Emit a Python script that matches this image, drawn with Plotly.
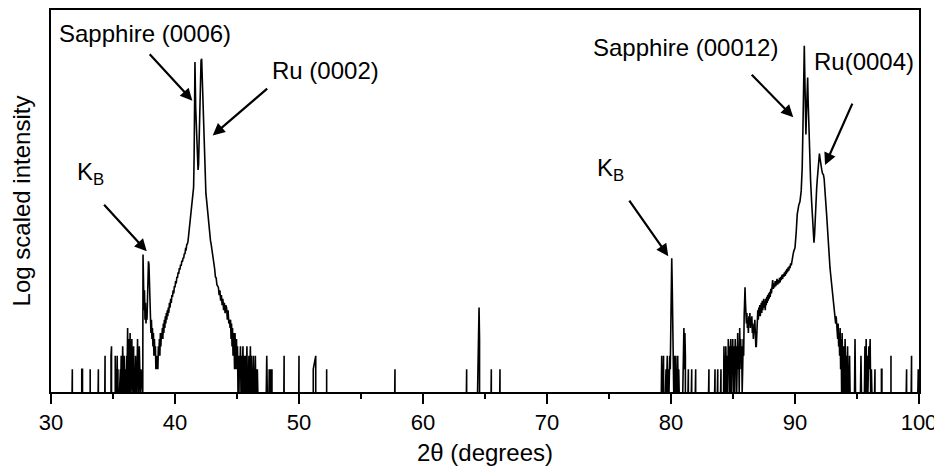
import math
import plotly.graph_objects as go

# 2theta (deg), counts; zero counts leave gaps on the log axis
noise_35 = [
    (31.70, 1), (31.72, 2), (31.74, 1), (31.76, 0),
    (32.48, 2), (32.54, 2), (32.56, 0),
    (33.14, 1), (33.16, 2), (33.18, 1), (33.20, 0),
    (33.80, 1), (33.82, 2), (33.84, 1), (33.86, 0),
    (34.34, 1), (34.36, 3), (34.38, 1), (34.40, 0),
    (34.84, 3), (34.88, 4), (34.90, 0),
    (35.12, 1), (35.14, 2), (35.16, 1), (35.18, 3), (35.20, 1), (35.22, 2), (35.24, 1), (35.28, 2),
    (35.30, 1), (35.34, 3), (35.36, 1), (35.40, 2), (35.42, 1), (35.44, 0),
    (35.52, 1), (35.54, 2), (35.56, 1), (35.60, 2), (35.62, 1), (35.66, 3), (35.68, 1), (35.72, 2),
    (35.74, 1), (35.78, 4), (35.80, 1), (35.84, 2), (35.86, 1), (35.90, 3), (35.92, 1), (36.00, 2),
    (36.02, 1), (36.10, 3), (36.12, 1), (36.18, 7), (36.20, 1), (36.24, 4), (36.26, 2), (36.30, 5),
    (36.32, 1), (36.36, 3), (36.38, 6), (36.40, 1), (36.46, 4), (36.48, 2), (36.52, 5), (36.54, 1),
    (36.60, 3), (36.62, 2), (36.66, 4), (36.68, 1), (36.74, 2), (36.76, 1), (36.82, 3), (36.84, 1),
    (36.90, 2), (36.92, 1), (36.98, 5), (37.00, 2), (37.04, 3), (37.06, 1), (37.12, 4), (37.14, 2),
    (37.18, 3), (37.20, 1), (37.26, 2), (37.30, 1), (37.36, 1),
]

peak_0006 = [
    (37.40, 1), (37.42, 65), (37.46, 30), (37.50, 12), (37.54, 22), (37.58, 9), (37.62, 15), (37.66, 8),
    (37.70, 11), (37.74, 9), (37.78, 20), (37.82, 40), (37.86, 53), (37.90, 48), (37.94, 30), (37.98, 14),
    (38.02, 10), (38.06, 6), (38.10, 9), (38.14, 5), (38.18, 7), (38.22, 4), (38.26, 6), (38.30, 3),
    (38.34, 5), (38.38, 3), (38.42, 4), (38.46, 2), (38.50, 3), (38.54, 2), (38.58, 3), (38.62, 2),
    (38.66, 4), (38.70, 3), (38.74, 5), (38.78, 3), (38.82, 6), (38.86, 4), (38.90, 6), (38.94, 5),
    (38.98, 7), (39.02, 5), (39.06, 8), (39.10, 6), (39.14, 9), (39.18, 7), (39.22, 10), (39.26, 8),
    (39.30, 11), (39.34, 9), (39.38, 12), (39.42, 10), (39.46, 13), (39.50, 11), (39.55, 15), (39.60, 13),
    (39.65, 17), (39.70, 15), (39.75, 19), (39.80, 18), (39.85, 22), (39.90, 20), (39.95, 25), (40.00, 24),
    (40.05, 29), (40.10, 27), (40.15, 33), (40.20, 32), (40.25, 38), (40.30, 36), (40.35, 43), (40.40, 41),
    (40.45, 48), (40.50, 46), (40.55, 54), (40.60, 52), (40.65, 59), (40.70, 58), (40.75, 67), (40.80, 66),
    (40.85, 77), (40.90, 76), (40.95, 88), (41.00, 90), (41.05, 98), (41.10, 115), (41.15, 135), (41.20, 160),
    (41.25, 190), (41.30, 230), (41.35, 280), (41.40, 325), (41.45, 380), (41.50, 500), (41.54, 1200),
    (41.58, 6000), (41.61, 22600), (41.64, 11000), (41.67, 5500), (41.70, 4200), (41.74, 2400), (41.78, 1300),
    (41.82, 950), (41.86, 850), (41.90, 1000), (41.94, 2200), (41.98, 5500), (42.02, 12000), (42.06, 19000),
    (42.10, 23500), (42.15, 25000), (42.19, 15000), (42.23, 9500), (42.27, 5500), (42.31, 2800), (42.36, 1300),
    (42.42, 600), (42.49, 420), (42.56, 325), (42.62, 250), (42.68, 190), (42.74, 150), (42.80, 120),
    (42.86, 100), (42.92, 88), (42.96, 80), (43.02, 64), (43.08, 58), (43.14, 46), (43.20, 42), (43.26, 33),
    (43.32, 32), (43.38, 26), (43.44, 25), (43.50, 24), (43.56, 19), (43.62, 22), (43.68, 16), (43.74, 19),
    (43.80, 14), (43.86, 17), (43.92, 12), (43.98, 15), (44.04, 11), (44.10, 14), (44.16, 13), (44.22, 9),
    (44.28, 12), (44.34, 8), (44.40, 9), (44.44, 7), (44.48, 9), (44.52, 5), (44.56, 8), (44.60, 4),
    (44.64, 7), (44.68, 3), (44.72, 6), (44.76, 5), (44.80, 2), (44.84, 6), (44.88, 3), (44.92, 2),
    (44.96, 5), (45.00, 2), (45.04, 4), (45.08, 1), (45.12, 3), (45.16, 1), (45.20, 3), (45.24, 2),
    (45.28, 4), (45.32, 1), (45.36, 3), (45.40, 1), (45.44, 2), (45.48, 4), (45.52, 1), (45.56, 3),
    (45.60, 2), (45.64, 1), (45.68, 3), (45.72, 1), (45.76, 2), (45.80, 4), (45.84, 1), (45.88, 2),
    (45.92, 1), (45.96, 3), (46.00, 1), (46.04, 2), (46.08, 4), (46.12, 1), (46.16, 3), (46.20, 1),
    (46.24, 2), (46.28, 1), (46.32, 3), (46.36, 1), (46.40, 2), (46.44, 1), (46.48, 3), (46.52, 1),
    (46.56, 2), (46.60, 1), (46.64, 2), (46.68, 1), (46.72, 0),
    (47.36, 1), (47.40, 3), (47.44, 1), (47.48, 0),
    (47.58, 1), (47.60, 2), (47.62, 1), (47.70, 2), (47.72, 1), (47.82, 2), (47.84, 1), (47.86, 0),
]

noise_mid = [
    (48.78, 1), (48.80, 3), (48.82, 1), (48.84, 0),
    (49.98, 1), (50.00, 3), (50.02, 1), (50.04, 0),
    (51.15, 2), (51.35, 3), (51.37, 0),
    (52.21, 1), (52.23, 2), (52.25, 1), (52.27, 0),
    (57.72, 1), (57.74, 2), (57.76, 1), (57.78, 0),
    (63.50, 1), (63.52, 2), (63.54, 1), (63.56, 0),
    (64.40, 1), (64.44, 2), (64.48, 6), (64.52, 13), (64.56, 5), (64.60, 2), (64.64, 1), (64.66, 0),
    (65.49, 1), (65.51, 2), (65.53, 1), (65.55, 0),
    (66.19, 1), (66.21, 2), (66.23, 1), (66.25, 0),
]

kb_80 = [
    (79.22, 1), (79.25, 3), (79.28, 1), (79.33, 2), (79.36, 1), (79.40, 3), (79.43, 1), (79.47, 0),
    (79.55, 1), (79.60, 2), (79.63, 1), (79.70, 3), (79.73, 1), (79.80, 2), (79.84, 1), (79.90, 3),
    (79.94, 2), (79.98, 8), (80.02, 30), (80.06, 58), (80.10, 25), (80.14, 6), (80.18, 3), (80.22, 1),
    (80.26, 3), (80.30, 1), (80.34, 2), (80.38, 3), (80.42, 1), (80.46, 2), (80.50, 1), (80.54, 3),
    (80.58, 1), (80.62, 2), (80.66, 1), (80.70, 0),
    (80.95, 1), (81.00, 3), (81.04, 7), (81.08, 2), (81.12, 6), (81.16, 3), (81.20, 1), (81.24, 0),
    (81.37, 1), (81.40, 2), (81.43, 1), (81.46, 0),
    (81.64, 1), (81.67, 2), (81.70, 1), (81.73, 0),
    (81.96, 1), (81.99, 2), (82.02, 1), (82.05, 0),
]

peak_00012 = [
    (83.03, 1), (83.06, 2), (83.09, 1), (83.12, 0),
    (83.52, 1), (83.55, 2), (83.58, 1), (83.61, 0),
    (83.74, 1), (83.77, 2), (83.80, 1), (83.83, 0),
    (84.00, 1), (84.03, 2), (84.06, 1), (84.10, 0),
    (84.24, 1), (84.27, 4), (84.30, 1), (84.34, 3), (84.38, 1), (84.42, 4), (84.46, 2), (84.50, 1),
    (84.54, 3), (84.58, 1), (84.62, 5), (84.66, 2), (84.70, 4), (84.74, 1), (84.78, 3), (84.82, 5),
    (84.86, 1), (84.90, 4), (84.94, 2), (84.98, 5), (85.02, 1), (85.06, 3), (85.10, 4), (85.14, 1),
    (85.18, 5), (85.22, 2), (85.26, 4), (85.30, 1), (85.34, 3), (85.38, 6), (85.42, 2), (85.46, 4),
    (85.50, 1), (85.54, 7), (85.58, 3), (85.62, 5), (85.66, 2), (85.70, 4), (85.74, 1), (85.78, 2),
    (85.82, 5), (85.86, 3), (85.90, 10), (85.94, 18), (85.97, 24), (86.00, 16), (86.04, 10), (86.08, 8),
    (86.12, 11), (86.16, 7), (86.20, 9), (86.24, 6), (86.28, 10), (86.32, 8), (86.36, 11), (86.40, 7),
    (86.44, 9), (86.48, 8), (86.52, 10), (86.56, 6), (86.60, 8), (86.64, 5), (86.68, 7), (86.72, 6),
    (86.76, 9), (86.80, 5), (86.84, 4), (86.88, 4), (86.92, 8), (86.96, 10), (87.00, 12), (87.04, 9),
    (87.08, 13), (87.12, 10), (87.16, 14), (87.20, 10), (87.24, 13), (87.28, 15), (87.32, 11), (87.36, 16),
    (87.40, 12), (87.44, 15), (87.48, 17), (87.52, 13), (87.56, 16), (87.60, 12), (87.64, 17), (87.68, 14),
    (87.72, 18), (87.76, 15), (87.80, 19), (87.84, 16), (87.88, 20), (87.92, 17), (87.96, 21), (88.00, 18),
    (88.05, 23), (88.10, 20), (88.15, 25), (88.20, 30), (88.25, 23), (88.30, 27), (88.35, 24), (88.40, 29),
    (88.45, 25), (88.50, 28), (88.55, 31), (88.60, 26), (88.65, 30), (88.70, 27), (88.75, 32), (88.80, 28),
    (88.85, 33), (88.90, 30), (88.95, 35), (89.00, 31), (89.05, 36), (89.10, 33), (89.15, 38), (89.20, 34),
    (89.25, 40), (89.30, 36), (89.35, 42), (89.40, 38), (89.45, 44), (89.50, 40), (89.55, 46), (89.60, 43),
    (89.65, 50), (89.70, 47), (89.75, 55), (89.80, 60), (89.85, 66), (89.90, 72), (89.95, 76), (90.00, 80),
    (90.10, 130), (90.18, 220), (90.30, 290), (90.40, 325), (90.50, 450), (90.58, 900), (90.64, 3000),
    (90.70, 12000), (90.75, 37000), (90.79, 15000), (90.84, 4000), (90.88, 2500), (90.93, 5000),
    (90.98, 11000), (91.02, 14100), (91.06, 7000), (91.12, 2500), (91.18, 1100), (91.26, 600),
    (91.34, 325), (91.42, 160), (91.48, 110), (91.53, 93), (91.58, 120), (91.64, 250), (91.69, 325),
    (91.75, 500), (91.80, 650), (91.86, 900), (91.92, 1250), (91.97, 1400), (92.02, 1200), (92.08, 950),
    (92.16, 850), (92.22, 760), (92.29, 740), (92.35, 650), (92.42, 500), (92.48, 320), (92.55, 220),
    (92.62, 130), (92.69, 80), (92.76, 58), (92.82, 44), (92.88, 35), (92.94, 28), (93.00, 24),
    (93.04, 21), (93.10, 16), (93.16, 13), (93.23, 11), (93.28, 8), (93.32, 10), (93.36, 7), (93.40, 7),
    (93.44, 5), (93.48, 8), (93.52, 4), (93.56, 6), (93.60, 3), (93.64, 7), (93.68, 2), (93.72, 5),
    (93.76, 1), (93.80, 6), (93.84, 3), (93.88, 1), (93.92, 4), (93.96, 2), (94.00, 1), (94.04, 5),
    (94.08, 2), (94.12, 1), (94.16, 3), (94.20, 1), (94.24, 4), (94.28, 1), (94.32, 2), (94.36, 1),
    (94.40, 3), (94.44, 1), (94.48, 0),
]

noise_97 = [
    (94.80, 1), (94.84, 5), (94.88, 1), (94.92, 0),
    (95.28, 1), (95.32, 3), (95.36, 1), (95.40, 0),
    (95.60, 1), (95.64, 4), (95.68, 1), (95.74, 5), (95.78, 1), (95.84, 3), (95.88, 1), (95.96, 4),
    (96.00, 2), (96.06, 5), (96.10, 1), (96.16, 2), (96.20, 1), (96.24, 0),
    (96.42, 1), (96.45, 2), (96.48, 1), (96.51, 0),
    (96.97, 2), (97.01, 2), (97.03, 0),
    (97.71, 1), (97.74, 3), (97.77, 1), (97.80, 0),
    (98.97, 1), (99.00, 2), (99.03, 1), (99.06, 0),
    (99.37, 1), (99.40, 3), (99.43, 1), (99.46, 0),
    (99.91, 1), (99.94, 2), (99.97, 1),
]

x_ticks = [30, 40, 50, 60, 70, 80, 90, 100]

# peak labels: text, label centre (2theta, counts), arrow tip (2theta, counts)
labels = ["Sapphire (0006)", "Ru (0002)", "K<sub>B</sub>", "K<sub>B</sub>", "Sapphire (00012)", "Ru(0004)"]
label_pos = [(37.58, 53600), (52.10, 17400), (33.20, 760), (75.10, 850), (81.20, 34700), (95.56, 22900)]
arrow_tip = [(41.40, 6980), (43.04, 2430), (37.72, 72), (79.78, 62), (89.86, 4225), (92.42, 985)]
arrow_tail_px = [(-44, -48), (56, -48), (-44, -48), (-40, -57), (-43, -44), (28, -63)]

scan = []
for seg in (noise_35, peak_0006, noise_mid, kb_80, peak_00012, noise_97):
    scan += seg + [(None, None)]
two_theta = [p[0] for p in scan]
counts = [p[1] for p in scan]

fig = go.Figure()
fig.add_trace(go.Scatter(x=two_theta, y=counts, mode='lines',
                         line=dict(color='black', width=1.6),
                         connectgaps=False, hoverinfo='skip'))

font_main = 'Liberation Sans, Arial, sans-serif'

annotations = []
for text, (lx, ly) in zip(labels, label_pos):
    annotations.append(dict(x=lx, y=math.log10(ly), xref='x', yref='y',
                            text=text, showarrow=False,
                            font=dict(family=font_main, size=24, color='black')))
for (tx, ty), (ax, ay) in zip(arrow_tip, arrow_tail_px):
    annotations.append(dict(x=tx, y=math.log10(ty), xref='x', yref='y',
                            text='', showarrow=True, ax=ax, ay=ay,
                            arrowhead=2, arrowsize=1.1, arrowwidth=2.2, arrowcolor='black',
                            standoff=0, startstandoff=0))

# the page body adds an 8px margin, so the figure is 8px smaller than the window
fig.update_layout(
    width=934, height=460,
    margin=dict(l=43, r=23, t=2, b=76),
    plot_bgcolor='white', paper_bgcolor='white',
    showlegend=False,
    annotations=annotations,
    xaxis=dict(range=[30, 100], tickvals=x_ticks, ticks='outside', ticklen=10, tickwidth=1.6,
               tickcolor='black', showline=True, linecolor='black', linewidth=1.6, mirror=True,
               showgrid=False, zeroline=False, automargin=False,
               tickfont=dict(family=font_main, size=22, color='black'),
               minor=dict(dtick=5, ticks='outside', ticklen=5, tickwidth=1.6, tickcolor='black', showgrid=False),
               title=dict(text='2θ (degrees)', standoff=10,
                          font=dict(family=font_main, size=24, color='black'))),
    yaxis=dict(type='log', range=[0, 5.04], showticklabels=False, ticks='',
               showline=True, linecolor='black', linewidth=1.6, mirror=True,
               showgrid=False, zeroline=False, automargin=False,
               title=dict(text='Log scaled intensity', standoff=12,
                          font=dict(family=font_main, size=24, color='black'))),
)

fig.write_html("out.html")
